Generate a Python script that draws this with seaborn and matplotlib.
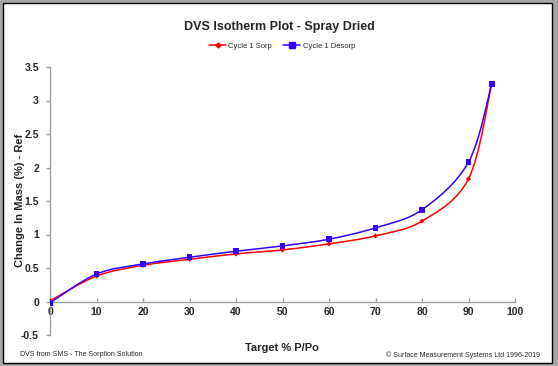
import numpy as np
import pandas as pd
import matplotlib
matplotlib.use("Agg")
import matplotlib.pyplot as plt
import seaborn as sns
from matplotlib.path import Path
from matplotlib.patches import PathPatch, Rectangle
from matplotlib.lines import Line2D

target_rh = [0, 10, 20, 30, 40, 50, 60, 70, 80, 90, 95]
sorp = [0.01, 0.38, 0.54, 0.63, 0.71, 0.77, 0.86, 0.98, 1.20, 1.83, 3.25]
desorp = [-0.02, 0.41, 0.56, 0.66, 0.75, 0.83, 0.93, 1.10, 1.37, 2.08, 3.25]
x_ticks = [0, 10, 20, 30, 40, 50, 60, 70, 80, 90, 100]
y_ticks = [-0.5, 0, 0.5, 1, 1.5, 2, 2.5, 3, 3.5]
y_tick_labels = ["-0.5", "0", "0.5", "1", "1.5", "2", "2.5", "3", "3.5"]

RED = "#ff0000"
BLUE = "#3300ff"

sns.set_style("white")
plt.rcParams["font.family"] = ["Liberation Sans", "DejaVu Sans"]

W, H = 558, 366
fig = plt.figure(figsize=(W / 100, H / 100), dpi=100)
fig.patch.set_facecolor("#a6a6a6")
fig.patches.append(Rectangle((3 / W, 3 / H), 549 / W, 360 / H, transform=fig.transFigure,
                             facecolor="white", edgecolor="black", linewidth=1.0, zorder=-5))

ax = fig.add_axes([50 / W, 31 / H, 465 / W, 268 / H])
ax.set_facecolor("none")
ax.set_zorder(2)
for s in ["top", "right"]:
    ax.spines[s].set_visible(False)
ax.spines["bottom"].set_position(("data", 0))

def smooth_path(xs, ys):
    pts = np.column_stack([xs, ys]).astype(float)
    n = len(pts)
    verts = [pts[0]]
    codes = [Path.MOVETO]
    for i in range(n - 1):
        p0 = pts[i - 1] if i > 0 else pts[i]
        p1 = pts[i]
        p2 = pts[i + 1]
        p3 = pts[i + 2] if i + 2 < n else pts[i + 1]
        c1 = p1 + (p2 - p0) / 6.0
        c2 = p2 - (p3 - p1) / 6.0
        verts += [c1, c2, p2]
        codes += [Path.CURVE4] * 3
    return Path(verts, codes)

df = pd.DataFrame({"rh": target_rh * 2, "mass": sorp + desorp,
                   "series": ["Cycle 1 Sorp"] * len(sorp) + ["Cycle 1 Desorp"] * len(desorp)})

for ys, col in [(sorp, RED), (desorp, BLUE)]:
    ax.add_patch(PathPatch(smooth_path(target_rh, ys), facecolor="none", edgecolor=col,
                           linewidth=1.1, zorder=3))

sns.scatterplot(data=df, x="rh", y="mass", hue="series", style="series",
                palette={"Cycle 1 Sorp": RED, "Cycle 1 Desorp": BLUE},
                markers={"Cycle 1 Sorp": "D", "Cycle 1 Desorp": "s"},
                size="series", sizes={"Cycle 1 Sorp": 7, "Cycle 1 Desorp": 17},
                edgecolor="none", linewidth=0, legend=False, ax=ax, zorder=4)

ax.set_xlim(0, 100)
ax.set_ylim(-0.5, 3.5)
ax.set_xticks(x_ticks)
ax.set_xticklabels([str(t) for t in x_ticks], fontsize=7.5, fontweight="bold")
ax.set_yticks(y_ticks)
ax.set_yticklabels(y_tick_labels, fontsize=7.5, fontweight="bold")

for s in ["left", "bottom"]:
    ax.spines[s].set_color("#a0a0a0")
    ax.spines[s].set_linewidth(1.0)
ax.tick_params(axis="y", direction="out", length=3, color="#a0a0a0", width=1, pad=5, left=True)
ax.tick_params(axis="x", direction="in", length=3, color="#a0a0a0", width=1, pad=4, bottom=True)

ax.set_xlabel("")
ax.set_ylabel("")
fig.text(282 / W, 1 - 348 / H, "Target % P/Po", ha="center", va="center", fontsize=8, fontweight="bold")
fig.text(20 / W, 1 - 200 / H, "Change In Mass (%) - Ref", ha="center", va="center", rotation=90,
         fontsize=8, fontweight="bold")
fig.text(279 / W, 1 - 27 / H, "DVS Isotherm Plot - Spray Dried", ha="center", va="center",
         fontsize=9, fontweight="bold")
fig.text(20 / W, 1 - 355 / H, "DVS from SMS - The Sorption Solution", ha="left", va="center", fontsize=5)
fig.text(540 / W, 1 - 355 / H, "\u00a9 Surface Measurement Systems Ltd 1996-2019", ha="right",
         va="center", fontsize=5)

handles = [Line2D([], [], color=RED, marker="D", markersize=2.5, linewidth=1.1, label="Cycle 1 Sorp"),
           Line2D([], [], color=BLUE, marker="s", markersize=4, linewidth=1.1, label="Cycle 1 Desorp")]
fig.legend(handles=handles, loc="center", bbox_to_anchor=(282 / W, 1 - 46 / H), ncol=2, frameon=False,
           fontsize=5.5, handlelength=2.2, handletextpad=0.3, columnspacing=1.5)

fig.savefig("out.png", dpi=100, facecolor=fig.get_facecolor())
